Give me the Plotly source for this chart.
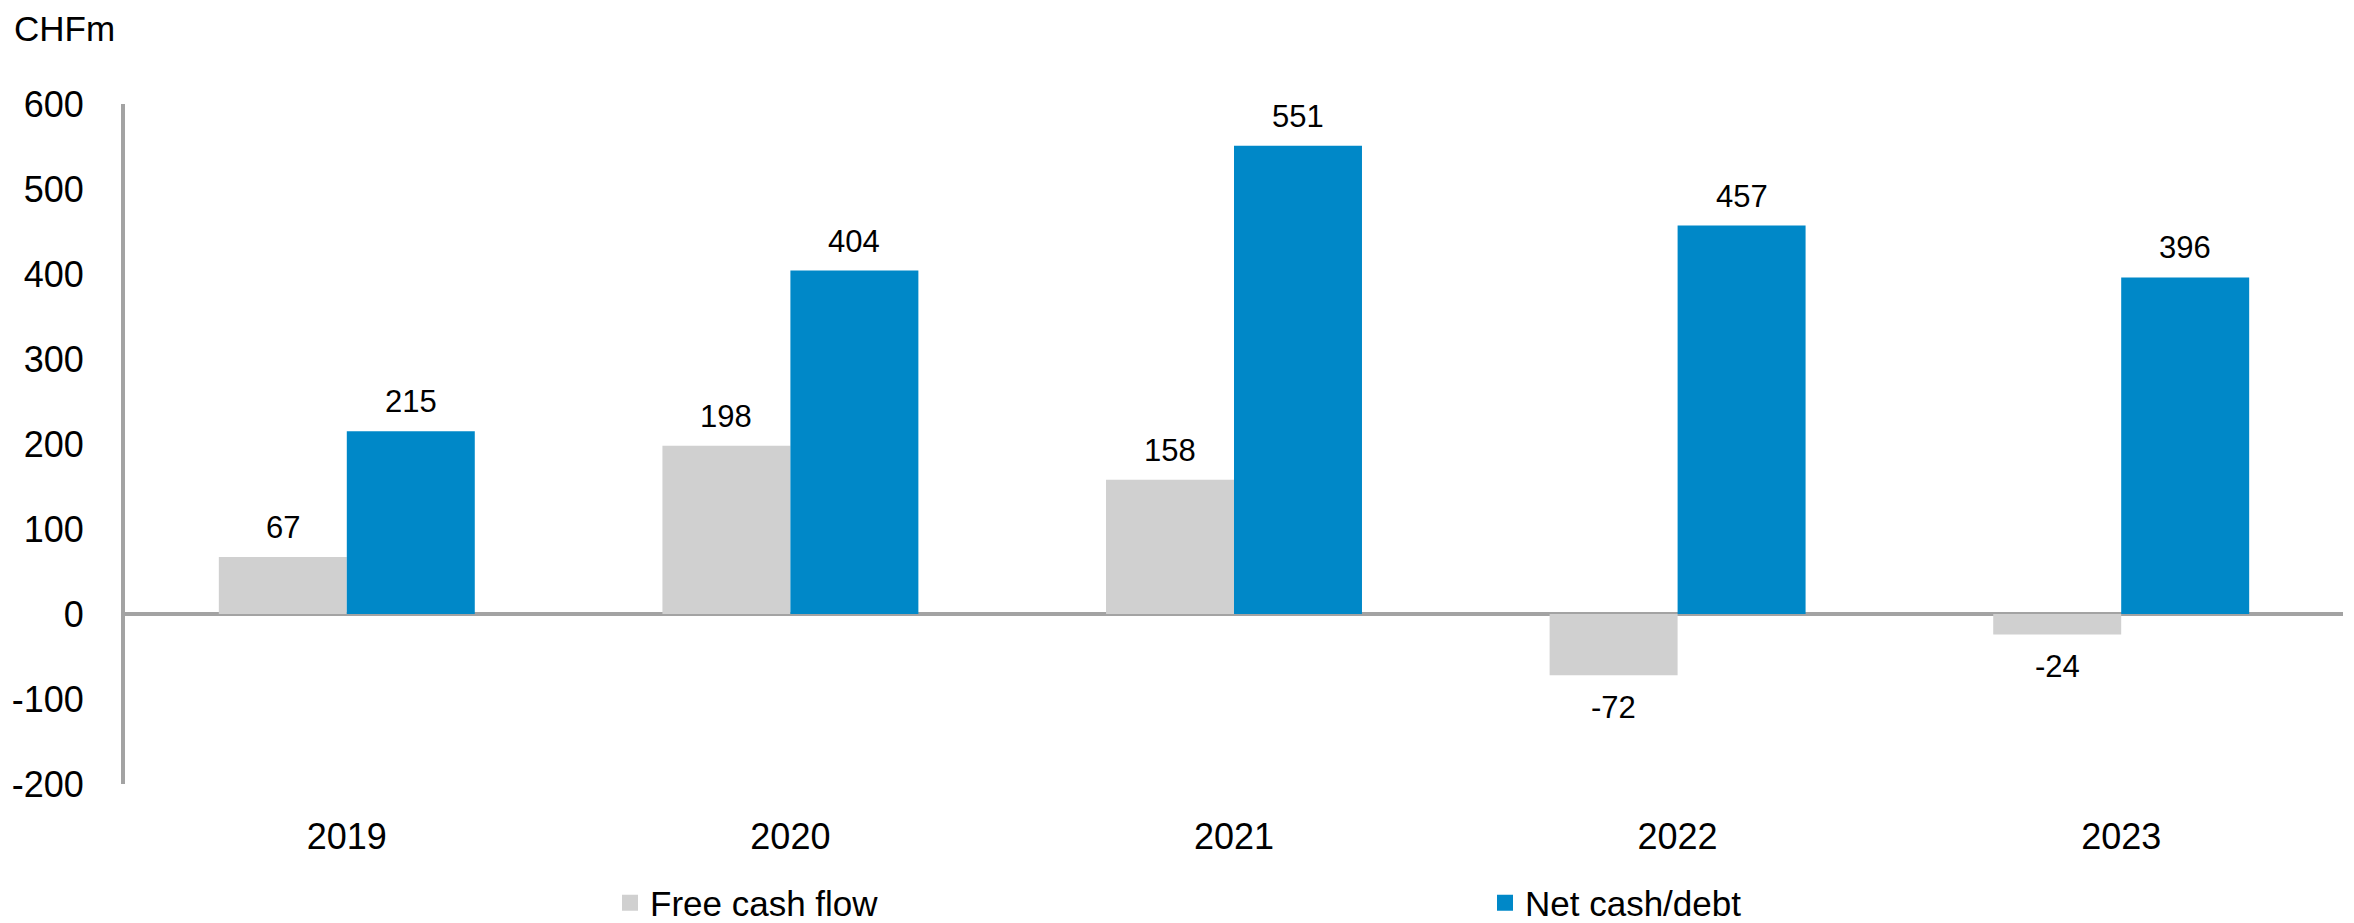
import plotly.graph_objects as go

years = ["2019", "2020", "2021", "2022", "2023"]
free_cash_flow = [67, 198, 158, -72, -24]
net_cash_debt = [215, 404, 551, 457, 396]
y_ticks = [-200, -100, 0, 100, 200, 300, 400, 500, 600]
y_tick_labels = [str(v) for v in y_ticks]

GRAY = "#D0D0D0"
BLUE = "#0088C8"
AXIS = "#A3A3A3"
FONT = "Liberation Sans, Arial, sans-serif"

# The page body has an 8px default margin; compensate so the figure fills the window.
W, H = 2354 - 8, 923 - 8
PLOT_L, PLOT_R = 125, 2343  # page coordinates of the plot area

fig = go.Figure()
fig.add_trace(go.Bar(name="Free cash flow", x=years, y=free_cash_flow,
                     marker=dict(color=GRAY, line=dict(width=0)),
                     showlegend=False))
fig.add_trace(go.Bar(name="Net cash/debt", x=years, y=net_cash_debt,
                     marker=dict(color=BLUE, line=dict(width=0)),
                     showlegend=False))
# legend entries with larger square swatches
fig.add_trace(go.Scatter(name="Free cash flow", x=[None], y=[None],
                         mode="markers", legend="legend",
                         marker=dict(symbol="square", size=21, color=GRAY)))
fig.add_trace(go.Scatter(name="Net cash/debt", x=[None], y=[None],
                         mode="markers", legend="legend2",
                         marker=dict(symbol="square", size=21, color=BLUE)))

annotations = []
for series, shift in ((free_cash_flow, -64), (net_cash_debt, 64)):
    for i, v in enumerate(series):
        annotations.append(dict(
            x=i, y=v, xref="x", yref="y", text=str(v), showarrow=False,
            xshift=shift, yshift=10 if v >= 0 else -13,
            yanchor="bottom" if v >= 0 else "top",
            font=dict(size=31, color="black", family=FONT)))
annotations.append(dict(x=0, y=1, xref="paper", yref="paper", text="CHFm",
                        showarrow=False, xanchor="left", yanchor="top",
                        xshift=-112, yshift=104 - 8, borderpad=0,
                        font=dict(size=35, color="black", family=FONT)))

legend_common = dict(orientation="h", xanchor="left", yanchor="middle",
                     yref="container", y=(923 - 903) / H,
                     bgcolor="rgba(0,0,0,0)",
                     font=dict(size=35, color="black", family=FONT),
                     itemclick=False, itemdoubleclick=False)

pw = PLOT_R - PLOT_L
fig.update_layout(
    width=W, height=H,
    margin=dict(l=125 - 8, r=11, t=104 - 8, b=139, autoexpand=False),
    paper_bgcolor="white", plot_bgcolor="white",
    barmode="group", bargap=0.423, bargroupgap=0,
    font=dict(family=FONT, size=36, color="black"),
    showlegend=True,
    legend=dict(x=(610 - PLOT_L) / pw, **legend_common),
    legend2=dict(x=(1485 - PLOT_L) / pw, **legend_common),
    annotations=annotations,
)
fig.update_xaxes(type="category", range=[-0.5, len(years) - 0.5],
                 automargin=False,
                 showline=False, showgrid=False,
                 zeroline=False, ticks="", ticklabelstandoff=28,
                 tickfont=dict(size=36, color="black"))
fig.update_yaxes(range=[-200, 600], tickvals=y_ticks, ticktext=y_tick_labels,
                 automargin=False, showgrid=False,
                 showline=True, linecolor=AXIS, linewidth=4,
                 zeroline=True, zerolinecolor=AXIS, zerolinewidth=4,
                 ticks="", ticklabelstandoff=30,
                 tickfont=dict(size=36, color="black"))

fig.write_html("out.html")
